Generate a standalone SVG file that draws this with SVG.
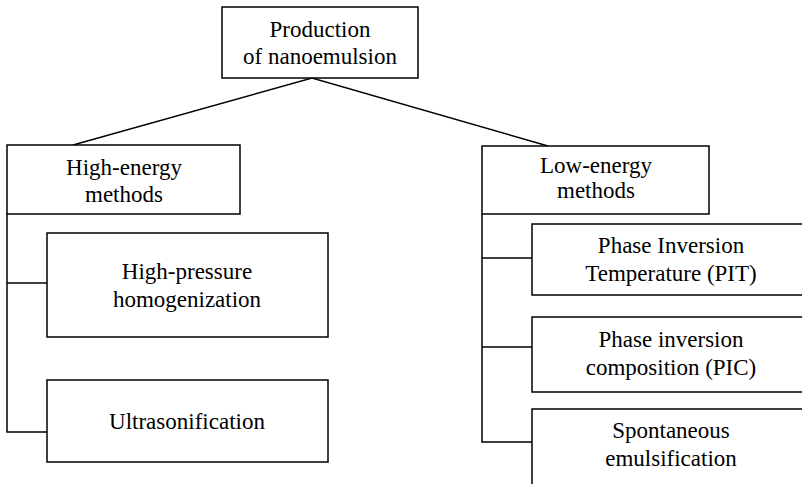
<svg xmlns="http://www.w3.org/2000/svg" width="802" height="484" viewBox="0 0 802 484">
<rect width="802" height="484" fill="#fff"/>
<g id="connectors" fill="none" stroke="#000" stroke-width="1.5">
<polyline points="73,145 312,78 548,146"/>
<polyline points="7,214 7,432 47,432"/>
<line x1="7" y1="283" x2="47" y2="283"/>
<polyline points="482,214 482,442 532,442"/>
<line x1="482" y1="258" x2="532" y2="258"/>
<line x1="482" y1="347" x2="532" y2="347"/>
</g>
<g id="root">
<rect x="222" y="7" width="196" height="71" fill="#fff" stroke="#000" stroke-width="1.5"/>
<text x="320" y="37" font-family="Times New Roman, Liberation Serif, serif" font-size="23" text-anchor="middle">Production</text>
<text x="320" y="64" font-family="Times New Roman, Liberation Serif, serif" font-size="23" text-anchor="middle">of nanoemulsion</text>
</g>
<g id="high-energy">
<rect x="7" y="145" width="233" height="69" fill="#fff" stroke="#000" stroke-width="1.5"/>
<text x="124" y="175" font-family="Times New Roman, Liberation Serif, serif" font-size="23" text-anchor="middle">High-energy</text>
<text x="124" y="202" font-family="Times New Roman, Liberation Serif, serif" font-size="23" text-anchor="middle">methods</text>
</g>
<g id="high-pressure">
<rect x="47" y="233" width="281" height="104" fill="#fff" stroke="#000" stroke-width="1.5"/>
<text x="187" y="279" font-family="Times New Roman, Liberation Serif, serif" font-size="23" text-anchor="middle">High-pressure</text>
<text x="187" y="307" font-family="Times New Roman, Liberation Serif, serif" font-size="23" text-anchor="middle">homogenization</text>
</g>
<g id="ultrasonification">
<rect x="47" y="380" width="281" height="82" fill="#fff" stroke="#000" stroke-width="1.5"/>
<text x="187" y="429" font-family="Times New Roman, Liberation Serif, serif" font-size="23" text-anchor="middle">Ultrasonification</text>
</g>
<g id="low-energy">
<rect x="482" y="146" width="227" height="68" fill="#fff" stroke="#000" stroke-width="1.5"/>
<text x="596" y="173" font-family="Times New Roman, Liberation Serif, serif" font-size="23" text-anchor="middle">Low-energy</text>
<text x="596" y="198" font-family="Times New Roman, Liberation Serif, serif" font-size="23" text-anchor="middle">methods</text>
</g>
<g id="pit">
<rect x="532" y="224" width="280" height="71" fill="#fff" stroke="#000" stroke-width="1.5"/>
<text x="671" y="253" font-family="Times New Roman, Liberation Serif, serif" font-size="23" text-anchor="middle">Phase Inversion</text>
<text x="671" y="281" font-family="Times New Roman, Liberation Serif, serif" font-size="23" text-anchor="middle">Temperature (PIT)</text>
</g>
<g id="pic">
<rect x="532" y="317" width="280" height="75" fill="#fff" stroke="#000" stroke-width="1.5"/>
<text x="671" y="347" font-family="Times New Roman, Liberation Serif, serif" font-size="23" text-anchor="middle">Phase inversion</text>
<text x="671" y="375" font-family="Times New Roman, Liberation Serif, serif" font-size="23" text-anchor="middle">composition (PIC)</text>
</g>
<g id="spontaneous">
<rect x="532" y="409" width="280" height="90" fill="#fff" stroke="#000" stroke-width="1.5"/>
<text x="671" y="438" font-family="Times New Roman, Liberation Serif, serif" font-size="23" text-anchor="middle">Spontaneous</text>
<text x="671" y="466" font-family="Times New Roman, Liberation Serif, serif" font-size="23" text-anchor="middle">emulsification</text>
</g>
</svg>
